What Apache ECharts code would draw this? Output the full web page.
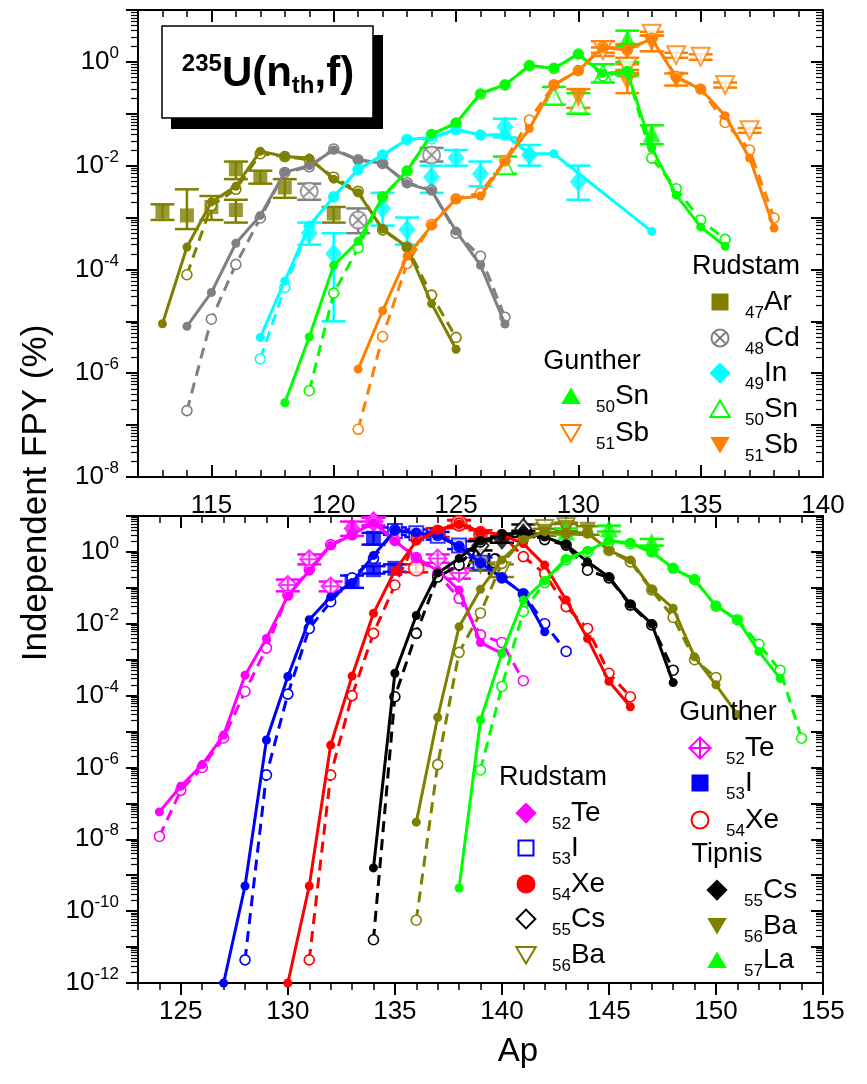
<!DOCTYPE html>
<html>
<head>
<meta charset="utf-8">
<script src="https://cdn.jsdelivr.net/npm/echarts@6/dist/echarts.min.js"></script>
<style>
html,body{margin:0;padding:0;background:#fff;}
#chart{width:867px;height:1084px;}
</style>
</head>
<body>
<div id="chart"></div>
<script>
// ---------- colours ----------
const OLIVE = '#808000', GRAY = '#808080', CYAN = '#00ffff', GREEN = '#00ff00',
      ORANGE = '#ff8000', MAGENTA = '#ff00ff', BLUE = '#0000ff', RED = '#ff0000', BLACK = '#000000';
const FONT = '"Liberation Sans", Arial, Helvetica, sans-serif';

// ---------- axis ticks ----------
const topXMajor = [115, 120, 125, 130, 135, 140];
const topXRange = [112, 140];
const botXMajor = [125, 130, 135, 140, 145, 150, 155];
const botXRange = [123, 155];
const topYDecades = [-8, 1];
const botYDecades = [-12, 1];
const topYLabels = [-8, -6, -4, -2, 0];
const botYLabels = [-12, -10, -8, -6, -4, -2, 0];

// ---------- upper panel: model curves [Ap, FPY %] ----------
const arSolid = [[113,9e-6],[114,2.7e-4],[115,2e-3],[116,4e-3],[117,1.9e-2],[118,1.5e-2],[119,1.4e-2],[120,5.5e-3],[121,3e-3],[122,6e-4],[123,2.7e-4],[124,2.2e-5],[125,2.9e-6]];
const arDash  = [[114,7.9e-5],[115,1.7e-3],[116,3.5e-3],[117,1.7e-2],[118,1.5e-2],[119,1.3e-2],[120,6e-3],[121,3.2e-3],[122,5.8e-4],[123,2.7e-4],[124,3.2e-5],[125,4.9e-6]];
const cdSolid = [[114,8e-6],[115,3.6e-5],[116,3.2e-4],[117,1.1e-3],[118,7.5e-3],[119,1e-2],[120,2e-2],[121,1.3e-2],[122,1.1e-2],[123,4.5e-3],[124,3.3e-3],[125,5.5e-4],[126,1.2e-4],[127,8.9e-6]];
const cdDash  = [[114,1.9e-7],[115,1.1e-5],[116,1.25e-4],[117,9.8e-4],[118,7.4e-3],[119,9.5e-3],[120,2.1e-2],[121,1.3e-2],[122,1.1e-2],[123,4.7e-3],[124,3.4e-3],[125,5e-4],[126,1.8e-4],[127,1.2e-5]];
const inSolid = [[117,4.9e-6],[118,6e-5],[119,7e-4],[120,2.5e-3],[121,8.5e-3],[122,1.6e-2],[123,3.2e-2],[124,3.5e-2],[125,5e-2],[126,3.9e-2],[127,3.9e-2],[128,1.7e-2],[129,1.7e-2],[133,5.4e-4]];
const inDash  = [[117,1.9e-6],[118,4.5e-5],[119,6.8e-4],[120,2.5e-3],[121,8.5e-3],[122,1.6e-2],[123,3.2e-2],[124,3.3e-2],[125,5e-2],[126,3.9e-2],[127,3.9e-2],[128,1.7e-2]];
const snSolid = [[118,2.7e-7],[119,5e-6],[120,1.2e-4],[121,3.5e-4],[122,2.5e-3],[123,8e-3],[124,4e-2],[125,6.6e-2],[126,0.25],[127,0.36],[128,0.85],[129,0.75],[130,1.4],[131,0.6],[132,0.65],[133,2.2e-2],[134,2.7e-3],[135,6.6e-4],[136,2.8e-4]];
const snDash  = [[119,4.6e-7],[120,3.5e-5],[121,2.6e-4],[122,2.5e-3],[123,7.9e-3],[124,4e-2],[125,6.6e-2],[126,0.24],[127,0.36],[128,0.85],[129,0.75],[130,1.42],[131,0.54],[132,0.65],[133,1.4e-2],[134,3.6e-3],[135,9e-4],[136,3.8e-4]];
const sbSolid = [[121,1.2e-6],[122,1.6e-5],[123,1.8e-4],[124,7e-4],[125,2.3e-3],[126,2.6e-3],[127,1.2e-2],[128,5.2e-2],[129,0.36],[130,0.68],[131,1.9],[132,1.7],[133,2.8],[134,0.5],[135,0.3],[136,9.2e-2],[137,1.4e-2],[138,6.3e-4]];
const sbDash  = [[121,8.3e-8],[122,5.1e-6],[123,1.3e-4],[124,7.3e-4],[125,2.3e-3],[126,3e-3],[127,1.25e-2],[128,7.6e-2],[129,0.36],[130,0.68],[131,1.95],[132,1.7],[133,2.85],[134,0.52],[135,0.3],[136,6.8e-2],[137,2e-2],[138,9.8e-4]];

// ---------- upper panel: measurements [Ap, FPY, low, high] ----------
const rudAr = [[113,1.3e-3,0.9e-3,1.8e-3],[114,1.1e-3,0.6e-3,3.5e-3],[115,1.6e-3,0.9e-3,2.6e-3],[116,8.5e-3,5.5e-3,1.2e-2],[116,1.4e-3,0.8e-3,2.2e-3],[117,6e-3,4.5e-3,8e-3],[118,3.8e-3,2.4e-3,5.5e-3],[120,1.2e-3,0.8e-3,1.6e-3]];
const rudCd = [[119,3.2e-3,2.2e-3,4.5e-3],[121,9e-4,5e-4,1.5e-3],[124,1.6e-2,1.2e-2,2.2e-2]];
const rudIn = [[119,5e-4,3e-4,8e-4],[120,2e-4,1e-5,5e-4],[122,1.5e-3,7e-4,3e-3],[123,5.8e-4,3e-4,1e-3],[124,6e-3,3e-3,1e-2],[125,1.4e-2,1e-2,2e-2],[126,7e-3,4e-3,1.2e-2],[127,5.6e-2,3.5e-2,8e-2],[128,1.6e-2,1e-2,2.5e-2],[130,4.9e-3,2.2e-3,1e-2]];
const rudSn = [[127,1e-2,7e-3,1.5e-2],[129,0.22,0.15,0.33],[130,0.15,0.1,0.25],[131,0.6,0.4,0.9],[132,0.75,0.55,1.0]];
const rudSb = [[130,0.2,0.13,0.3],[131,1.8,1.3,2.5],[132,0.4,0.25,0.6],[132,1.6,1.2,2.2],[133,2.3,1.6,3.2],[134,0.45,0.35,0.6]];
const gunSn = [[132,2.8,2.0,4.0],[133,4.2e-2,2.6e-2,6e-2]];
const gunSb = [[131,1.7,1.5,1.9],[132,0.8,0.7,0.9],[133,3.5,3.2,3.8],[134,1.35,1.2,1.5],[135,1.25,1.1,1.4],[136,0.36,0.32,0.4],[137,4.8e-2,4.3e-2,5.3e-2]];

// ---------- lower panel: model curves ----------
const teSolid = [[124,5.8e-8],[125,3e-7],[126,1.2e-6],[127,8e-6],[128,3.7e-4],[129,3.9e-3],[130,6e-2],[131,0.3],[132,1.5],[133,3],[134,6.5],[135,2],[136,0.7],[137,0.3],[138,8.7e-2],[139,3e-3],[140,1.5e-3]];
const teDash  = [[124,1.2e-8],[125,2.3e-7],[126,1e-6],[127,6.6e-6],[128,1.3e-4],[129,2.1e-3],[130,6.3e-2],[131,0.32],[132,1.6],[133,3],[134,6.9],[135,2.1],[136,0.7],[137,0.25],[138,5.1e-2],[139,4.9e-3],[140,3e-3],[141,2.6e-4]];
const iSolid  = [[127,1e-12],[128,5e-10],[129,5.8e-6],[130,3.4e-4],[131,1.3e-2],[132,5.6e-2],[133,0.14],[134,0.8],[135,4],[136,3.3],[137,2.9],[138,1.4],[139,0.5],[140,0.19],[141,6.8e-2],[142,6e-3]];
const iDash   = [[128,4.4e-12],[129,6.2e-7],[130,1.1e-4],[131,7.4e-3],[132,4.1e-2],[133,0.19],[134,0.66],[135,4.1],[136,3.3],[137,2.9],[138,1.4],[139,0.5],[140,0.19],[141,6.8e-2],[142,1e-2],[143,1.7e-3]];
const xeSolid = [[130,1e-12],[131,5e-10],[132,4.2e-6],[133,3.5e-4],[134,1.95e-2],[135,0.3],[136,2],[137,4],[138,6],[139,3.7],[140,3],[141,1.7],[142,0.43],[143,4.6e-2],[144,3.9e-3],[145,2.5e-4],[146,4.9e-5]];
const xeDash  = [[131,4.4e-12],[132,6.2e-7],[133,1e-4],[134,5.4e-3],[135,0.12],[136,2.2],[137,4],[138,6.3],[139,3.7],[140,3],[141,0.74],[142,0.25],[143,3e-2],[144,7.4e-3],[145,4.2e-4],[146,9.3e-5]];
const csSolid = [[134,1.6e-9],[135,4.2e-4],[136,1.7e-2],[137,0.26],[138,0.66],[139,2],[140,3],[141,3.5],[142,2.6],[143,1.6],[144,0.53],[145,0.2],[146,3.5e-2],[147,1e-2],[148,2.3e-4]];
const csDash  = [[134,1.6e-11],[135,9.3e-5],[136,5.4e-3],[137,0.2],[138,0.43],[139,1.9],[140,3],[141,3.5],[142,2.2],[143,1.55],[144,0.31],[145,0.19],[146,3.3e-2],[147,9.3e-3],[148,5.1e-4]];
const baSolid = [[136,3e-8],[137,2.5e-5],[138,8.3e-3],[139,9.1e-2],[140,0.6],[141,2.2],[142,3.6],[143,3.3],[144,3.4],[145,1.1],[146,0.6],[147,9e-2],[148,2.7e-2],[149,1.2e-3],[150,2e-4],[151,3e-5]];
const baDash  = [[136,5.6e-11],[137,1.2e-6],[138,1.6e-3],[139,2e-2],[140,0.48],[141,2.2],[142,3.6],[143,3.3],[144,3.4],[145,1.1],[146,0.53],[147,8.7e-2],[148,1.5e-2],[149,1e-3],[150,3.2e-4]];
const laSolid = [[138,4.4e-10],[139,2.1e-5],[140,1.5e-3],[141,4.6e-2],[142,0.16],[143,0.65],[144,1.1],[145,2],[146,1.8],[147,1.0],[148,0.35],[149,0.17],[150,3.1e-2],[151,1.3e-2],[152,1.7e-3],[153,3e-4]];
const laDash  = [[139,8.5e-7],[140,1.8e-4],[141,2.2e-2],[142,0.14],[143,0.6],[144,1.0],[145,1.9],[146,1.7],[147,1.0],[148,0.35],[149,0.17],[150,3.1e-2],[151,1.3e-2],[152,2.7e-3],[153,5.1e-4],[154,6.5e-6]];

// ---------- lower panel: measurements [Ap, FPY, low, high] ----------
const rudTe = [[133,4.5,2.8,7],[134,7,5,9.5]];
const rudI  = [[135,3.8,3,4.8],[136,3.3,2.6,4.2],[137,2.8,2.2,3.6],[138,1.5,1.2,2],[139,0.5,0.35,0.7]];
const rudXe = [[137,3.5,2.6,4.6],[138,6.0,4.6,7.8],[139,3,2.3,4]];
const rudCs = [[139,1.5,1.1,2],[141,4.5,3.5,5.8]];
const rudBa = [[140,0.3,0.2,0.45],[142,4.5,3.3,6],[143,5,3.8,6.5]];
const gunTe = [[130,0.12,0.08,0.17],[131,0.63,0.45,0.85],[132,0.11,0.08,0.15],[134,7,5.5,9],[137,0.66,0.5,0.85],[138,0.26,0.18,0.35]];
const gunI  = [[133,0.15,0.1,0.22],[134,2.4,1.6,3.4],[134,0.32,0.25,0.4],[135,0.35,0.28,0.45]];
const gunXe = [[136,0.35,0.27,0.45],[138,6.3,5.3,7.5]];
const tipCs = [[140,2.2,1.8,2.7],[141,3.2,2.6,3.9]];
const tipBa = [[139,0.4,0.3,0.5],[142,3.5,2.8,4.4],[143,4.5,3.4,6],[144,4,3,5.2]];
const tipLa = [[143,3.7,3,4.5],[145,4.5,3.7,5.4],[147,1.9,1.5,2.3]];

// ---------- helpers ----------
const lg = v => Math.log10(v);
const range = (a, b) => { const r = []; for (let i = a; i <= b; i++) r.push(i); return r; };
const logMinor = (a, b) => { const r = []; for (let d = a; d < b; d++) for (let k = 2; k <= 9; k++) r.push(d + Math.log10(k)); return r; };

const PATH_CX = 'path://M0,-10 A10,10 0 1 1 0,10 A10,10 0 1 1 0,-10 Z M-7,-7 L7,7 M7,-7 L-7,7';
const PATH_DP = 'path://M0,-10 L10,0 L0,10 L-10,0 Z M0,-10 L0,10 M-10,0 L10,0';

function curve(pts, color, dashed, ax) {
  return {
    type: 'line', xAxisIndex: ax, yAxisIndex: ax,
    data: pts.map(p => [p[0], lg(p[1])]),
    symbol: 'circle', symbolSize: dashed ? 10 : 9, showAllSymbol: true,
    lineStyle: { color: color, width: 3, type: dashed ? [11, 7] : 'solid' },
    itemStyle: dashed ? { color: '#ffffff', borderColor: color, borderWidth: 1.6 } : { color: color, borderWidth: 0 },
    z: dashed ? 5 : 6, silent: true, animation: false, clip: true
  };
}

function measured(pts, color, symbol, open, ax, size, rotate) {
  const bars = {
    type: 'custom', xAxisIndex: ax, yAxisIndex: ax,
    data: pts.map(p => [p[0], lg(p[1]), lg(p[2]), lg(p[3])]),
    renderItem: (params, api) => {
      const x = api.value(0);
      const a = api.coord([x, api.value(2)]);
      const b = api.coord([x, api.value(3)]);
      const w = 12;
      const st = { stroke: color, lineWidth: 2.5 };
      return { type: 'group', children: [
        { type: 'line', shape: { x1: a[0], y1: a[1], x2: b[0], y2: b[1] }, style: st },
        { type: 'line', shape: { x1: a[0] - w, y1: a[1], x2: a[0] + w, y2: a[1] }, style: st },
        { type: 'line', shape: { x1: b[0] - w, y1: b[1], x2: b[0] + w, y2: b[1] }, style: st }
      ]};
    },
    z: 3, silent: true, animation: false, clip: true
  };
  const marks = {
    type: 'scatter', xAxisIndex: ax, yAxisIndex: ax,
    data: pts.map(p => [p[0], lg(p[1])]),
    symbol: symbol, symbolSize: size || 16, symbolRotate: rotate || 0,
    itemStyle: open ? { color: '#ffffff', borderColor: color, borderWidth: 2 } : { color: color },
    z: 4, silent: true, animation: false, clip: true
  };
  return [bars, marks];
}

// frame axes for one panel: main + minor-tick companions on every side
function panelAxes(gi, xr, xMaj, yr, yLab, xTickInside, xLabelMargin) {
  const line = { show: true, onZero: false, lineStyle: { color: '#000', width: 2 } };
  const noLine = { show: false, onZero: false };
  const xMinor = range(xr[0], xr[1]);
  const yMaj = range(yr[0], yr[1]);
  const yMin = logMinor(yr[0], yr[1]);
  const base = { gridIndex: gi, type: 'value', splitLine: { show: false }, silent: true };
  const xs = [
    Object.assign({}, base, { min: xr[0], max: xr[1], position: 'bottom', axisLine: line,
      axisTick: { show: true, inside: xTickInside, length: 12, customValues: xMaj, lineStyle: { color: '#000', width: 2 } },
      axisLabel: { show: true, customValues: xMaj, margin: xLabelMargin, color: '#000', fontSize: 26, fontFamily: FONT } }),
    Object.assign({}, base, { min: xr[0], max: xr[1], position: 'bottom', axisLine: noLine,
      axisTick: { show: true, inside: xTickInside, length: 7, customValues: xMinor, lineStyle: { color: '#000', width: 1.5 } },
      axisLabel: { show: false } }),
    Object.assign({}, base, { min: xr[0], max: xr[1], position: 'top', axisLine: line,
      axisTick: { show: true, inside: true, length: 12, customValues: xMaj, lineStyle: { color: '#000', width: 2 } },
      axisLabel: { show: false } }),
    Object.assign({}, base, { min: xr[0], max: xr[1], position: 'top', axisLine: noLine,
      axisTick: { show: true, inside: true, length: 7, customValues: xMinor, lineStyle: { color: '#000', width: 1.5 } },
      axisLabel: { show: false } })
  ];
  const ys = [
    Object.assign({}, base, { min: yr[0], max: yr[1], position: 'left', axisLine: line,
      axisTick: { show: true, inside: false, length: 12, customValues: yMaj, lineStyle: { color: '#000', width: 2 } },
      axisLabel: { show: true, customValues: yLab, margin: 19, color: '#000',
        formatter: v => '{b|10}{s|' + Math.round(v) + '}',
        rich: { b: { fontSize: 26, fontFamily: FONT, color: '#000' },
                s: { fontSize: 17, fontFamily: FONT, color: '#000', padding: [0, 0, 17, 0] } } } }),
    Object.assign({}, base, { min: yr[0], max: yr[1], position: 'left', axisLine: noLine,
      axisTick: { show: true, inside: false, length: 7, customValues: yMin, lineStyle: { color: '#000', width: 1.2 } },
      axisLabel: { show: false } }),
    Object.assign({}, base, { min: yr[0], max: yr[1], position: 'right', axisLine: line,
      axisTick: { show: true, inside: true, length: 12, customValues: yMaj, lineStyle: { color: '#000', width: 2 } },
      axisLabel: { show: false } }),
    Object.assign({}, base, { min: yr[0], max: yr[1], position: 'right', axisLine: noLine,
      axisTick: { show: true, inside: true, length: 7, customValues: yMin, lineStyle: { color: '#000', width: 1.2 } },
      axisLabel: { show: false } })
  ];
  return { xs, ys };
}

// ---------- legend drawing ----------
function legendSymbol(kind, cx, cy, color) {
  const r = 8.5;
  const openSt = { fill: '#ffffff', stroke: color, lineWidth: 2 };
  const fillSt = { fill: color };
  const dia = (k) => [[cx, cy - r * k], [cx + r * k, cy], [cx, cy + r * k], [cx - r * k, cy]];
  const up = [[cx, cy - r], [cx + r * 1.15, cy + r * 0.95], [cx - r * 1.15, cy + r * 0.95]];
  const down = [[cx, cy + r], [cx + r * 1.15, cy - r * 0.95], [cx - r * 1.15, cy - r * 0.95]];
  switch (kind) {
    case 'sq': return { type: 'rect', shape: { x: cx - r, y: cy - r, width: 2 * r, height: 2 * r }, style: fillSt };
    case 'sqo': return { type: 'rect', shape: { x: cx - r + 1, y: cy - r + 1, width: 2 * r - 2, height: 2 * r - 2 }, style: openSt };
    case 'ci': return { type: 'circle', shape: { cx, cy, r: r + 1 }, style: fillSt };
    case 'cio': return { type: 'circle', shape: { cx, cy, r: r }, style: openSt };
    case 'di': return { type: 'polygon', shape: { points: dia(1.25) }, style: fillSt };
    case 'dio': return { type: 'polygon', shape: { points: dia(1.1) }, style: openSt };
    case 'tu': return { type: 'polygon', shape: { points: up }, style: fillSt };
    case 'tuo': return { type: 'polygon', shape: { points: up }, style: openSt };
    case 'td': return { type: 'polygon', shape: { points: down }, style: fillSt };
    case 'tdo': return { type: 'polygon', shape: { points: down }, style: openSt };
    case 'cx': return { type: 'group', children: [
      { type: 'circle', shape: { cx, cy, r: r }, style: openSt },
      { type: 'line', shape: { x1: cx - 6, y1: cy - 6, x2: cx + 6, y2: cy + 6 }, style: { stroke: color, lineWidth: 2 } },
      { type: 'line', shape: { x1: cx + 6, y1: cy - 6, x2: cx - 6, y2: cy + 6 }, style: { stroke: color, lineWidth: 2 } } ] };
    case 'dp': return { type: 'group', children: [
      { type: 'polygon', shape: { points: dia(1.25) }, style: openSt },
      { type: 'line', shape: { x1: cx, y1: cy - r * 1.25, x2: cx, y2: cy + r * 1.25 }, style: { stroke: color, lineWidth: 2 } },
      { type: 'line', shape: { x1: cx - r * 1.25, y1: cy, x2: cx + r * 1.25, y2: cy }, style: { stroke: color, lineWidth: 2 } } ] };
  }
}

const richLabel = {
  s: { fontSize: 17, fontFamily: FONT, color: '#000', padding: [22, 0, 0, 0] },
  e: { fontSize: 28, fontFamily: FONT, color: '#000' }
};

function legendBlock(title, titleX, titleY, symX, textX, ys, items) {
  const els = [{ type: 'text', x: titleX, y: titleY, z: 100,
    style: { text: title, fontSize: 27, fontFamily: FONT, fill: '#000', align: 'center', verticalAlign: 'middle' } }];
  items.forEach((it, i) => {
    const s = legendSymbol(it[2], symX, ys[i], it[3]);
    s.z = 100;
    els.push(s);
    els.push({ type: 'text', x: textX, y: ys[i], z: 100,
      style: { text: '{s|' + it[0] + '}{e|' + it[1] + '}', rich: richLabel, align: 'left', verticalAlign: 'middle' } });
  });
  return els;
}

// legend contents: [Z, element, symbol kind, colour]
const legTopRudstam = [['47', 'Ar', 'sq', OLIVE], ['48', 'Cd', 'cx', GRAY], ['49', 'In', 'di', CYAN], ['50', 'Sn', 'tuo', GREEN], ['51', 'Sb', 'td', ORANGE]];
const legTopGunther = [['50', 'Sn', 'tu', GREEN], ['51', 'Sb', 'tdo', ORANGE]];
const legBotRudstam = [['52', 'Te', 'di', MAGENTA], ['53', 'I', 'sqo', BLUE], ['54', 'Xe', 'ci', RED], ['55', 'Cs', 'dio', BLACK], ['56', 'Ba', 'tdo', OLIVE]];
const legBotGunther = [['52', 'Te', 'dp', MAGENTA], ['53', 'I', 'sq', BLUE], ['54', 'Xe', 'cio', RED]];
const legBotTipnis = [['55', 'Cs', 'di', BLACK], ['56', 'Ba', 'td', OLIVE], ['57', 'La', 'tu', GREEN]];

// ---------- assemble ----------
const upperAxes = panelAxes(0, topXRange, topXMajor, topYDecades, topYLabels, true, 16);
const lowerAxes = panelAxes(1, botXRange, botXMajor, botYDecades, botYLabels, false, 16);

const seriesList = [];
const UP = 0, LO = 4;
// upper panel measurements
seriesList.push(...measured(rudAr, OLIVE, 'rect', false, UP, 14));
seriesList.push(...measured(rudCd, GRAY, PATH_CX, true, UP, 17));
seriesList.push(...measured(rudIn, CYAN, 'diamond', false, UP, [17, 21]));
seriesList.push(...measured(rudSn, GREEN, 'triangle', true, UP, 17));
seriesList.push(...measured(rudSb, ORANGE, 'triangle', false, UP, 17, 180));
seriesList.push(...measured(gunSn, GREEN, 'triangle', false, UP, 18));
seriesList.push(...measured(gunSb, ORANGE, 'triangle', true, UP, 18, 180));
// upper panel curves
[[arSolid, arDash, OLIVE], [cdSolid, cdDash, GRAY], [inSolid, inDash, CYAN], [snSolid, snDash, GREEN], [sbSolid, sbDash, ORANGE]]
  .forEach(c => { seriesList.push(curve(c[1], c[2], true, UP)); seriesList.push(curve(c[0], c[2], false, UP)); });
// lower panel measurements
seriesList.push(...measured(rudTe, MAGENTA, 'diamond', false, LO, [17, 21]));
seriesList.push(...measured(rudI, BLUE, 'rect', true, LO, 14));
seriesList.push(...measured(rudXe, RED, 'circle', false, LO, 15));
seriesList.push(...measured(rudCs, BLACK, 'diamond', true, LO, [16, 19]));
seriesList.push(...measured(rudBa, OLIVE, 'triangle', true, LO, 17, 180));
seriesList.push(...measured(gunTe, MAGENTA, PATH_DP, true, LO, 18));
seriesList.push(...measured(gunI, BLUE, 'rect', false, LO, 15));
seriesList.push(...measured(gunXe, RED, 'circle', true, LO, 15));
seriesList.push(...measured(tipCs, BLACK, 'diamond', false, LO, [17, 21]));
seriesList.push(...measured(tipBa, OLIVE, 'triangle', false, LO, 17, 180));
seriesList.push(...measured(tipLa, GREEN, 'triangle', false, LO, 18));
// lower panel curves
[[teSolid, teDash, MAGENTA], [iSolid, iDash, BLUE], [xeSolid, xeDash, RED], [csSolid, csDash, BLACK], [baSolid, baDash, OLIVE], [laSolid, laDash, GREEN]]
  .forEach(c => { seriesList.push(curve(c[1], c[2], true, LO)); seriesList.push(curve(c[0], c[2], false, LO)); });

const graphics = [
  // reaction label box with drop shadow
  { type: 'rect', z: 90, shape: { x: 171, y: 35, width: 212, height: 94 }, style: { fill: '#000' } },
  { type: 'rect', z: 91, shape: { x: 162, y: 26, width: 211, height: 92 }, style: { fill: '#fff', stroke: '#000', lineWidth: 1.5 } },
  { type: 'text', z: 92, x: 268, y: 74,
    style: { text: '{p|235}{b|U(n}{d|th}{b|,f)}', align: 'center', verticalAlign: 'middle',
      rich: { p: { fontSize: 24, fontWeight: 'bold', fontFamily: FONT, color: '#000', padding: [0, 0, 20, 0] },
              b: { fontSize: 42, fontWeight: 'bold', fontFamily: FONT, color: '#000' },
              d: { fontSize: 24, fontWeight: 'bold', fontFamily: FONT, color: '#000', padding: [24, 0, 0, 0] } } } },
  // axis titles
  { type: 'text', z: 50, x: 36, y: 493, rotation: Math.PI / 2,
    style: { text: 'Independent FPY (%)', fontSize: 35, fontFamily: FONT, fill: '#000', align: 'center', verticalAlign: 'middle' } },
  { type: 'text', z: 50, x: 518, y: 1052,
    style: { text: 'Ap', fontSize: 33, fontFamily: FONT, fill: '#000', align: 'center', verticalAlign: 'middle' } },
  { type: 'text', z: 1, x: 484, y: 561,
    style: { text: 'Ap', fontSize: 30, fontFamily: FONT, fill: '#000', align: 'center', verticalAlign: 'middle' } }
]
  .concat(legendBlock('Rudstam', 746, 267, 720, 745, [302, 338, 373, 409, 445], legTopRudstam))
  .concat(legendBlock('Gunther', 592, 362, 571, 596, [396, 433], legTopGunther))
  .concat(legendBlock('Rudstam', 553, 778, 526, 552, [813, 848, 884, 919, 955], legBotRudstam))
  .concat(legendBlock('Gunther', 728, 713, 700, 726, [748, 783, 820], legBotGunther))
  .concat(legendBlock('Tipnis', 727, 855, 717, 744, [890, 926, 960], legBotTipnis));

const chart = echarts.init(document.getElementById('chart'), null, { renderer: 'canvas' });
chart.setOption({
  animation: false,
  backgroundColor: '#ffffff',
  textStyle: { fontFamily: FONT },
  grid: [
    { left: 138, top: 10, width: 685, height: 467, containLabel: false, outerBoundsMode: 'none' },
    { left: 138, top: 516, width: 685, height: 467, containLabel: false, outerBoundsMode: 'none' }
  ],
  xAxis: upperAxes.xs.concat(lowerAxes.xs),
  yAxis: upperAxes.ys.concat(lowerAxes.ys),
  series: seriesList,
  graphic: graphics
});
</script>
</body>
</html>
